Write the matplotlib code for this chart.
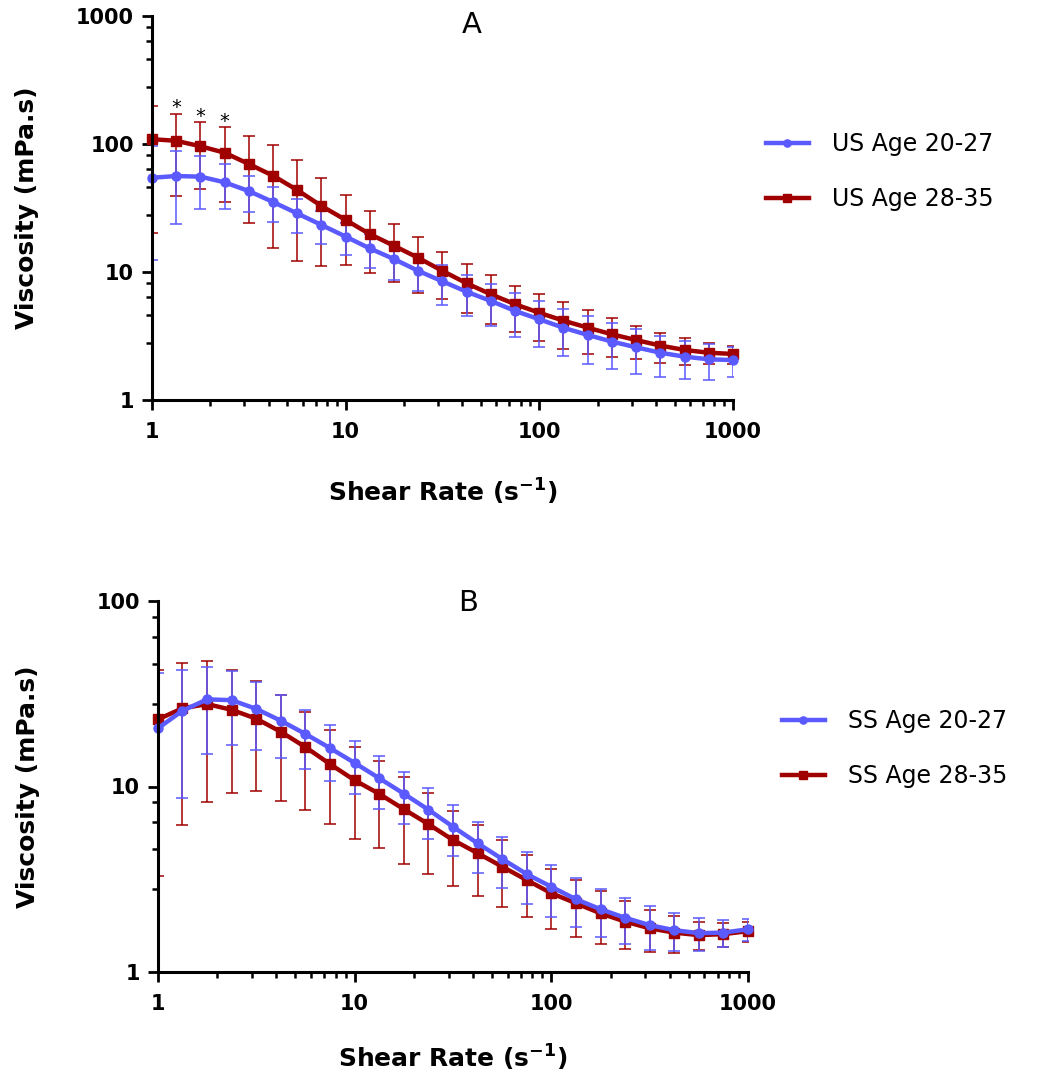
import matplotlib
matplotlib.use("Agg")
import matplotlib.pyplot as plt
import matplotlib.ticker as ticker

plt.rcParams['font.family'] = ['DejaVu Sans']
plt.rcParams['mathtext.fontset'] = 'dejavusans'

# Shear rates (s-1)
shear = [1, 1.33, 1.78, 2.37, 3.16, 4.22, 5.62, 7.5, 10, 13.3, 17.8, 23.7, 31.6,
         42.2, 56.2, 75, 100, 133, 178, 237, 316, 422, 562, 750, 1000]

# Panel A : US (mean, SD)
us_young = [54.5, 56.2, 55.6, 50.2, 42.9, 35.2, 28.7, 23.3, 18.9, 15.3, 12.6, 10.2, 8.45,
            7.0, 5.94, 4.96, 4.27, 3.67, 3.22, 2.86, 2.58, 2.34, 2.18, 2.08, 2.05]
us_young_sd = [42, 32.3, 24.3, 19.2, 13.6, 10.6, 8.4, 6.8, 5.4, 4.5, 3.9, 3.1, 2.9,
               2.5, 2.15, 1.86, 1.66, 1.47, 1.3, 1.11, 0.98, 0.82, 0.73, 0.65, 0.53]
us_old = [109, 106, 96, 85.5, 69.8, 56.5, 43.7, 32.8, 25.5, 19.8, 16.0, 12.9, 10.2,
          8.15, 6.7, 5.6, 4.8, 4.17, 3.67, 3.26, 2.94, 2.66, 2.46, 2.34, 2.29]
us_old_sd = [89, 67, 51.5, 50, 45.5, 41, 31.5, 21.6, 14.2, 10, 7.6, 6.0, 4.1,
             3.35, 2.8, 2.2, 1.9, 1.66, 1.38, 1.09, 0.84, 0.7, 0.57, 0.43, 0.37]
star_idx = [1, 2, 3]  # points marqués *

# Panel B : SS (mean, SD)
ss_young = [20.6, 25.6, 29.5, 29.2, 26.2, 22.6, 19.2, 16.1, 13.4, 11.1, 9.14, 7.5, 6.07,
            4.94, 4.07, 3.37, 2.88, 2.47, 2.18, 1.96, 1.79, 1.68, 1.62, 1.63, 1.70]
ss_young_sd = [20.2, 16.9, 14.5, 12.5, 10.5, 8.4, 6.7, 5.4, 4.3, 3.5, 2.85, 2.3, 1.86,
               1.52, 1.25, 1.05, 0.89, 0.73, 0.63, 0.54, 0.47, 0.39, 0.33, 0.27, 0.23]
ss_old = [23.0, 26.4, 27.8, 25.9, 23.2, 19.7, 16.3, 13.2, 10.8, 9.14, 7.54, 6.27, 5.15,
          4.37, 3.7, 3.13, 2.66, 2.35, 2.07, 1.87, 1.72, 1.63, 1.58, 1.60, 1.66]
ss_old_sd = [19.7, 20.2, 19.5, 16.7, 13.8, 11.3, 8.8, 6.9, 5.6, 4.5, 3.7, 2.9, 2.25,
             1.8, 1.45, 1.15, 0.95, 0.8, 0.65, 0.54, 0.44, 0.37, 0.27, 0.24, 0.21]

# graduations secondaires de l'axe y (découpage linéaire de chaque décade)
y_minor_subs = [2.8, 4.6, 6.4, 8.2]

BLUE = '#5a5aff'
RED = '#a00000'


def draw_panel(ax, young, young_sd, old, old_sd, title, title_pos, ymax):
    # rouge d'abord, bleu par-dessus
    h_old = ax.errorbar(shear, old, yerr=old_sd, color=RED, lw=3.2, marker='s', ms=6.5,
                        elinewidth=1.1, capsize=4, capthick=1.1)
    h_young = ax.errorbar(shear, young, yerr=young_sd, color=BLUE, lw=3.2, marker='o', ms=6.5,
                          elinewidth=1.1, capsize=4, capthick=1.1)
    h_old[0].set_clip_on(False)
    h_young[0].set_clip_on(False)

    ax.set_xscale('log')
    ax.set_yscale('log')
    ax.set_xlim(1, 1000)
    ax.set_ylim(1, ymax)
    ax.yaxis.set_minor_locator(ticker.LogLocator(base=10, subs=y_minor_subs))
    fmt = ticker.FuncFormatter(lambda v, p: f'{v:g}')
    ax.xaxis.set_major_formatter(fmt)
    ax.yaxis.set_major_formatter(fmt)
    ax.xaxis.set_minor_formatter(ticker.NullFormatter())
    ax.yaxis.set_minor_formatter(ticker.NullFormatter())

    for s in ['top', 'right']:
        ax.spines[s].set_visible(False)
    for s in ['left', 'bottom']:
        ax.spines[s].set_linewidth(2.2)
    ax.tick_params(which='major', length=7, width=2, labelsize=15)
    ax.tick_params(which='minor', length=4, width=1.8)
    ax.tick_params(axis='x', which='major', pad=9)
    ax.tick_params(axis='y', which='major', pad=6)
    for lab in ax.get_xticklabels() + ax.get_yticklabels():
        lab.set_fontweight('bold')

    ax.set_ylabel('Viscosity (mPa.s)', fontsize=18, fontweight='bold')
    ax.set_xlabel(r'Shear Rate (s$^{\mathbf{-1}}$)', fontsize=18, fontweight='bold')
    ax.text(title_pos[0], title_pos[1], title, transform=ax.transAxes, fontsize=21,
            ha='center', va='center')
    return h_young[0], h_old[0]


fig = plt.figure(figsize=(10.52, 10.73), dpi=100)

axA = fig.add_axes([152 / 1052, 1 - 400 / 1073, 581 / 1052, 384 / 1073])
hy, ho = draw_panel(axA, us_young, us_young_sd, us_old, us_old_sd, 'A', (0.551, 0.977), 1000)
for i in star_idx:
    axA.annotate('*', (shear[i], us_old[i] + us_old_sd[i]), xytext=(0, 4),
                 textcoords='offset points', ha='center', va='center', fontsize=14)
axA.yaxis.set_label_coords(-0.195, 0.5)
axA.xaxis.set_label_coords(0.5, -0.2)
axA.legend([hy, ho], ['US Age 20-27', 'US Age 28-35'], loc='center left',
           bbox_to_anchor=(766 / 1052, 1 - 171.5 / 1073), bbox_transform=fig.transFigure,
           frameon=False, fontsize=17, handlelength=1.8, handletextpad=1.0,
           labelspacing=1.3, borderpad=0, borderaxespad=0, markerscale=0.8)

axB = fig.add_axes([158 / 1052, 1 - 972 / 1073, 590 / 1052, 371 / 1073])
hy, ho = draw_panel(axB, ss_young, ss_young_sd, ss_old, ss_old_sd, 'B', (0.525, 0.995), 100)
axB.yaxis.set_label_coords(-0.2, 0.5)
axB.xaxis.set_label_coords(0.5, -0.19)
axB.legend([hy, ho], ['SS Age 20-27', 'SS Age 28-35'], loc='center left',
           bbox_to_anchor=(782 / 1052, 1 - 748.5 / 1073), bbox_transform=fig.transFigure,
           frameon=False, fontsize=17, handlelength=1.8, handletextpad=1.0,
           labelspacing=1.3, borderpad=0, borderaxespad=0, markerscale=0.8)

fig.savefig('out.png', dpi=100)
